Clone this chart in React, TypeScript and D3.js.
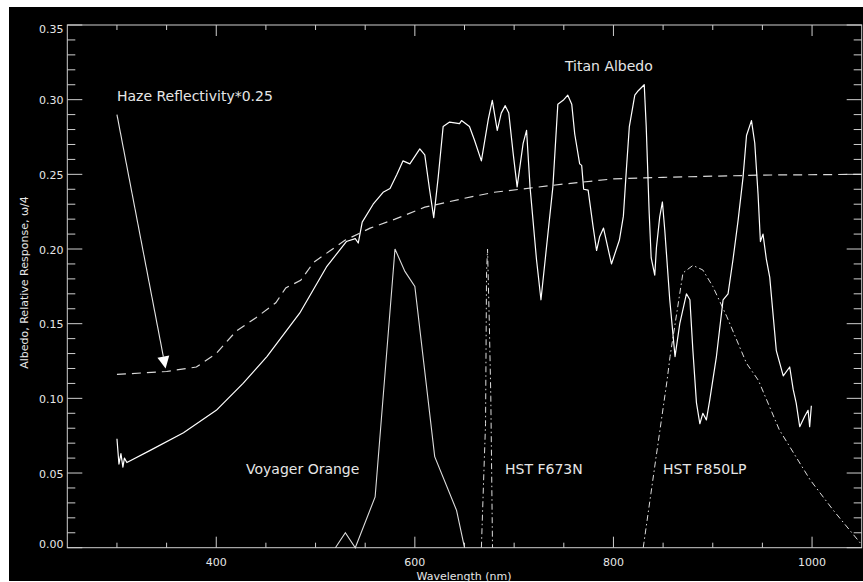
import React from "react";
import * as d3 from "d3";

// Titan geometric albedo spectrum (wavelength nm, albedo)
const titanAlbedo: [number, number][] = [
  [300, 0.073], [302, 0.056], [304, 0.063], [306, 0.054], [307.5, 0.06], [310, 0.057],
  [333, 0.065], [367, 0.077], [400, 0.092], [427, 0.11], [451, 0.128], [484, 0.157],
  [511, 0.188], [531, 0.205], [540, 0.207], [543, 0.204], [547, 0.218], [558, 0.23],
  [568, 0.238], [575, 0.2405], [582, 0.25], [588, 0.259], [595, 0.257], [605, 0.267],
  [610, 0.263], [615, 0.239], [619, 0.221], [623.5, 0.248], [628.5, 0.282], [635, 0.285],
  [645, 0.284], [647, 0.286], [655, 0.282], [660, 0.273], [667, 0.259], [674, 0.287],
  [678, 0.2995], [683, 0.2795], [687, 0.291], [691, 0.296], [694.6, 0.291], [699, 0.264],
  [703, 0.2416], [709, 0.2706], [712.5, 0.2795], [716, 0.2416], [722.5, 0.193], [727, 0.166],
  [739, 0.2416], [744, 0.297], [746, 0.298], [750, 0.3], [754, 0.303], [758, 0.297],
  [761, 0.277], [766, 0.257], [768, 0.256], [770, 0.24], [774.5, 0.2394], [779.5, 0.215],
  [783, 0.199], [786, 0.208], [790, 0.214], [798, 0.19], [806, 0.206], [810, 0.222],
  [813, 0.253], [816, 0.282], [821.5, 0.303], [825, 0.306], [828, 0.308], [831, 0.31],
  [833, 0.282], [836, 0.224], [838, 0.194], [841.6, 0.1825], [843.3, 0.201], [846.6, 0.2215],
  [849.3, 0.2315], [851.7, 0.2126], [856.7, 0.166], [862, 0.128], [866.8, 0.15], [873.5, 0.17],
  [877, 0.166], [880, 0.132], [883.6, 0.097], [887, 0.083], [890, 0.09], [893.6, 0.0856],
  [897, 0.099], [903.7, 0.128], [910.4, 0.166], [915.4, 0.17], [920.4, 0.193], [925.5, 0.219],
  [930.5, 0.248], [934, 0.276], [939, 0.286], [942.3, 0.271], [945.6, 0.237], [948, 0.205],
  [950.6, 0.21], [954, 0.193], [957.4, 0.181], [964, 0.132], [971, 0.115], [977.5, 0.121],
  [981, 0.106], [984, 0.097], [987.6, 0.081], [992.6, 0.088], [996, 0.092], [997.6, 0.081],
  [999.3, 0.095],
];

// Haze reflectivity scaled by 0.25
const hazeReflectivity: [number, number][] = [
  [300, 0.116], [350, 0.118], [380, 0.121], [400, 0.13], [420, 0.145], [440, 0.154],
  [460, 0.164], [470, 0.174], [485, 0.179], [498, 0.191], [515, 0.199], [530, 0.206],
  [555, 0.214], [580, 0.22], [610, 0.228], [650, 0.234], [680, 0.238], [750, 0.2435],
  [800, 0.247], [850, 0.248], [950, 0.2495], [1050, 0.25],
];

// Filter relative responses
const voyagerOrange: [number, number][] = [
  [520, 0], [530, 0.01], [540, 0], [560, 0.034], [580, 0.2], [590, 0.185],
  [600, 0.175], [620, 0.061], [642, 0.025], [650, 0],
];

const hstF673N: [number, number][] = [
  [667, 0], [670, 0.06], [671.2, 0.083], [672.2, 0.184], [673.2, 0.2], [675, 0.15],
  [676.5, 0.101], [678.2, 0],
];

const hstF850LP: [number, number][] = [
  [830, 0], [843, 0.061], [854, 0.112], [857, 0.128], [870, 0.184], [880, 0.189],
  [890, 0.186], [900, 0.175], [914, 0.155], [934, 0.1235], [946, 0.112], [967, 0.079],
  [998, 0.0455], [1021, 0.0254], [1050, 0.002],
];

const yTicks = [0, 0.05, 0.1, 0.15, 0.2, 0.25, 0.3, 0.35];
const xTickLabels = [400, 600, 800, 1000];

const W = 863;
const H = 582;
const FONT = "'DejaVu Sans', Verdana, sans-serif";
const INK = "#e6e6e6";

export default function App() {
  const x = d3.scaleLinear().domain([250, 1050]).range([67.3, 861.7]);
  const y = d3.scaleLinear().domain([0, 0.35]).range([547.7, 25]);
  const line = d3
    .line<[number, number]>()
    .x((d) => x(d[0]))
    .y((d) => y(d[1]));

  const xMinor = d3.range(300, 1001, 50);
  const yMinor = d3.range(0, 0.3501, 0.01).map((v) => +v.toFixed(2));
  const [x0, x1] = x.range();
  const [yb, yt] = y.range();

  const arrowTail: [number, number] = [x(300), y(0.29)];
  const arrowTip: [number, number] = [x(349), y(0.12)];
  const ang = Math.atan2(arrowTip[1] - arrowTail[1], arrowTip[0] - arrowTail[0]);
  const headLen = 12;
  const headHalf = 6;
  const bx = arrowTip[0] - headLen * Math.cos(ang);
  const by = arrowTip[1] - headLen * Math.sin(ang);
  const head = [
    [arrowTip[0], arrowTip[1]],
    [bx + headHalf * Math.sin(ang), by - headHalf * Math.cos(ang)],
    [bx - headHalf * Math.sin(ang), by + headHalf * Math.cos(ang)],
  ];

  return (
    <>
      <style>{`body{margin:0;overflow:hidden;background:#fff}`}</style>
      <svg width={W} height={H} style={{ display: "block" }}>
        <rect x={9} y={7} width={W - 9} height={574} fill="#000" />

        {/* frame */}
        <rect x={x0} y={yt} width={x1 - x0} height={yb - yt} fill="none" stroke="#cfcfcf" strokeWidth={1} />

        {/* x ticks, bottom and top */}
        {xMinor.map((v) => {
          const major = v % 200 === 0;
          const len = major ? 11 : 5;
          return (
            <g key={"xt" + v} stroke="#cfcfcf" strokeWidth={1}>
              <line x1={x(v)} x2={x(v)} y1={yb} y2={yb - len} />
              <line x1={x(v)} x2={x(v)} y1={yt} y2={yt + len} />
            </g>
          );
        })}
        {/* y ticks, left and right */}
        {yMinor.map((v) => {
          const major = Math.round(v * 100) % 5 === 0;
          const len = major ? 15 : 8;
          return (
            <g key={"yt" + v} stroke="#cfcfcf" strokeWidth={1}>
              <line x1={x0} x2={x0 + len} y1={y(v)} y2={y(v)} />
              <line x1={x1} x2={x1 - len} y1={y(v)} y2={y(v)} />
            </g>
          );
        })}

        {/* tick labels */}
        {xTickLabels.map((v) => (
          <text key={"xl" + v} x={x(v)} y={566} textAnchor="middle" fontFamily={FONT} fontSize={11} fill={INK}>
            {v}
          </text>
        ))}
        {yTicks.map((v, i) => {
          let dy = 4.5;
          if (i === 0) dy = 0.6;
          if (i === yTicks.length - 1) dy = 8.3;
          return (
            <text key={"yl" + v} x={63.5} y={y(v) + dy} textAnchor="end" fontFamily={FONT} fontSize={11} fill={INK}>
              {v.toFixed(2)}
            </text>
          );
        })}

        {/* axis titles */}
        <text x={464} y={579.5} textAnchor="middle" fontFamily={FONT} fontSize={11} fill={INK}>
          Wavelength (nm)
        </text>
        <text
          transform="translate(28,282.5) rotate(-90)"
          textAnchor="middle"
          fontFamily={FONT}
          fontSize={11}
          fill={INK}
        >
          Albedo, Relative Response, ω/4
        </text>

        {/* curves */}
        <path d={line(hazeReflectivity) ?? ""} fill="none" stroke="#d9d9d9" strokeWidth={1.2} strokeDasharray="9,6" />
        <path d={line(voyagerOrange) ?? ""} fill="none" stroke="#dcdcdc" strokeWidth={1.1} />
        <path d={line(hstF673N) ?? ""} fill="none" stroke="#dcdcdc" strokeWidth={1} strokeDasharray="6,3,1.5,3" />
        <path d={line(hstF850LP) ?? ""} fill="none" stroke="#dcdcdc" strokeWidth={1} strokeDasharray="6,3,1.5,3" />
        <path d={line(titanAlbedo) ?? ""} fill="none" stroke="#ffffff" strokeWidth={1.2} strokeLinejoin="round" />

        {/* annotations */}
        <line x1={arrowTail[0]} y1={arrowTail[1]} x2={bx} y2={by} stroke="#e6e6e6" strokeWidth={1.1} />
        <polygon points={head.map((p) => p.join(",")).join(" ")} fill="#ffffff" />
        <g fontFamily={FONT} fontSize={14} fill={INK}>
          <text x={117} y={100.5}>Haze Reflectivity*0.25</text>
          <text x={565} y={70.7}>Titan Albedo</text>
          <text x={246} y={474}>Voyager Orange</text>
          <text x={505} y={474}>HST F673N</text>
          <text x={663} y={474}>HST F850LP</text>
        </g>
      </svg>
    </>
  );
}
